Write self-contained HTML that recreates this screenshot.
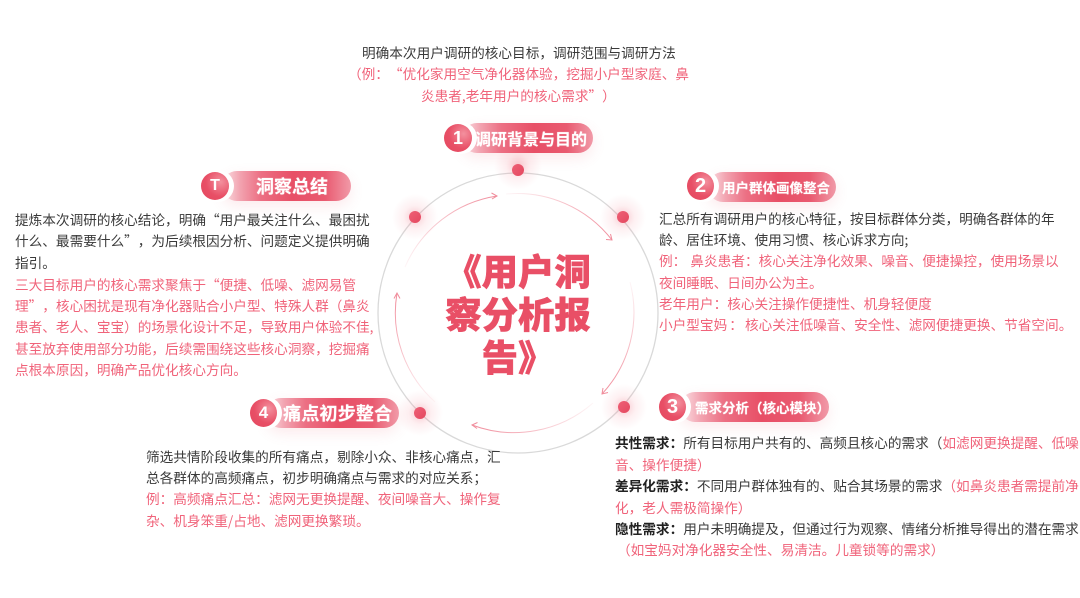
<!DOCTYPE html>
<html lang="zh-CN">
<head>
<meta charset="utf-8">
<style>
html,body{margin:0;padding:0;background:#fff}
#p{position:relative;width:1080px;height:598px;overflow:hidden;background:#fff;font-family:"Noto Sans CJK SC","Liberation Sans",sans-serif;text-spacing-trim:space-all;font-feature-settings:"palt" 0,"chws" 0,"halt" 0}
.l{position:absolute;white-space:pre;font-size:13.65px;line-height:20px;color:#3a3a3a;word-spacing:-1px}
.r{color:#f0637a}
.l b{color:#222;font-weight:700}
.pill{position:absolute;height:30px;border-radius:15px;background:linear-gradient(90deg,#fbe3e7 0%,#f2a3b0 14%,#ec6f83 30%,#e84f66 55%,#e95a70 80%,#f19aa8 100%);box-shadow:0 5px 14px rgba(233,80,102,.12)}
.c{position:absolute;border-radius:50%;background:radial-gradient(circle at 70% 35%,#f3909e 0%,#e84f66 55%,#e4485f 100%);color:#fff;text-align:center;font-family:"Liberation Sans",sans-serif;font-weight:700;box-shadow:0 0 0 2px #fff,3px 0 0 2px #fff}
.t{position:absolute;color:#fff;font-weight:700;white-space:pre;line-height:30px;text-shadow:0 0 1px rgba(255,255,255,.6)}
.h{position:absolute;width:100%;text-align:center;left:-22px;font-weight:900;font-size:36.4px;line-height:43px;color:#e94f66;white-space:pre;-webkit-text-stroke:.5px #e94f66}
</style>
</head>
<body>
<div id="p">
<svg width="1080" height="598" style="position:absolute;left:0;top:0">
<defs>
<radialGradient id="g"><stop offset="0" stop-color="#ee5a72" stop-opacity=".36"/><stop offset=".5" stop-color="#f2808f" stop-opacity=".12"/><stop offset="1" stop-color="#f2808f" stop-opacity="0"/></radialGradient>
<linearGradient id="a1" gradientUnits="userSpaceOnUse" x1="405" y1="267" x2="497" y2="196"><stop offset="0" stop-color="#f08c9b" stop-opacity=".08"/><stop offset="1" stop-color="#f08c9b"/></linearGradient>
<linearGradient id="a2" gradientUnits="userSpaceOnUse" x1="506" y1="194" x2="612" y2="240"><stop offset="0" stop-color="#f08c9b" stop-opacity=".08"/><stop offset="1" stop-color="#f08c9b"/></linearGradient>
<linearGradient id="a3" gradientUnits="userSpaceOnUse" x1="630" y1="282" x2="602" y2="394"><stop offset="0" stop-color="#f08c9b" stop-opacity=".08"/><stop offset="1" stop-color="#f08c9b"/></linearGradient>
<linearGradient id="a4" gradientUnits="userSpaceOnUse" x1="593" y1="403" x2="472" y2="425"><stop offset="0" stop-color="#f08c9b" stop-opacity=".08"/><stop offset="1" stop-color="#f08c9b"/></linearGradient>
<linearGradient id="a5" gradientUnits="userSpaceOnUse" x1="435" y1="402" x2="397" y2="293"><stop offset="0" stop-color="#f08c9b" stop-opacity=".08"/><stop offset="1" stop-color="#f08c9b"/></linearGradient>
<linearGradient id="dot" x1="0" y1="0" x2="1" y2="1"><stop offset="0" stop-color="#ee6076"/><stop offset="1" stop-color="#e4485f"/></linearGradient>
</defs>
<circle cx="518" cy="313" r="140" fill="none" stroke="#d9d9d9" stroke-width="1.3"/>
<g fill="url(#g)">
<circle cx="518" cy="166" r="24"/><circle cx="623" cy="217" r="23"/><circle cx="624" cy="407" r="23"/><circle cx="420" cy="413" r="23"/><circle cx="415" cy="217" r="23"/>
</g>
<g fill="none" stroke-width="1">
<path d="M405 267A120 120 0 0 1 497 196" stroke="url(#a1)"/>
<path d="M491.500 193L497 196L492 199" stroke="#f08c9b"/>
<path d="M506 194A120 120 0 0 1 612 240" stroke="url(#a2)"/>
<path d="M606 239.500L612 240L610.500 234" stroke="#f08c9b"/>
<path d="M630 282A120 120 0 0 1 602 394" stroke="url(#a3)"/>
<path d="M603 388L602 394L608 392.500" stroke="#f08c9b"/>
<path d="M593 403A120 120 0 0 1 472 425" stroke="url(#a4)"/>
<path d="M477.500 422.500L472 425L477 428.500" stroke="#f08c9b"/>
<path d="M435 402A120 120 0 0 1 397 293" stroke="url(#a5)"/>
<path d="M394 298.500L397 293L400 298.500" stroke="#f08c9b"/>
</g>
<g fill="url(#dot)">
<circle cx="518" cy="170" r="6"/><circle cx="623" cy="217" r="6"/><circle cx="624" cy="407" r="6"/><circle cx="420" cy="413" r="6"/><circle cx="415" cy="217" r="6"/>
</g>
</svg>

<div class="h" style="top:249px">《用户洞</div>
<div class="h" style="top:292px">察分析报</div>
<div class="h" style="top:335px">告》</div>

<!-- pills -->
<div class="pill" style="left:462px;top:123px;width:131px"></div>
<div class="c" style="left:444px;top:124px;width:28px;height:28px;line-height:28px;font-size:18px">1</div>
<div class="t" style="left:475px;top:123px;font-size:16px">调研背景与目的</div>

<div class="pill" style="left:222px;top:171px;width:129px"></div>
<div class="c" style="left:201px;top:172px;width:28px;height:28px;line-height:28px;font-size:16px">T</div>
<div class="t" style="left:256px;top:171px;font-size:18px">洞察总结</div>

<div class="pill" style="left:708px;top:172px;width:128px"></div>
<div class="c" style="left:687px;top:172px;width:27px;height:28px;line-height:28px;font-size:20px">2</div>
<div class="t" style="left:722px;top:172px;font-size:13.500px">用户群体画像整合</div>

<div class="pill" style="left:680px;top:392px;width:149px"></div>
<div class="c" style="left:659px;top:393px;width:27px;height:28px;line-height:28px;font-size:20px">3</div>
<div class="t" style="left:695px;top:392px;font-size:13.500px">需求分析（核心模块）</div>

<div class="pill" style="left:266px;top:398px;width:133px"></div>
<div class="c" style="left:250px;top:399px;width:27px;height:28px;line-height:28px;font-size:17px">4</div>
<div class="t" style="left:283px;top:398px;font-size:18.200px">痛点初步整合</div>

<!-- top -->
<div class="l" style="left:362px;top:42px">明确本次用户调研的核心目标，调研范围与调研方法</div>
<div class="l r" style="left:348px;top:63px">（例：“优化家用空气净化器体验，挖掘小户型家庭、鼻</div>
<div class="l r" style="left:421px;top:85px">炎患者,老年用户的核心需求”）</div>

<!-- left -->
<div class="l" style="left:15px;top:209px">提炼本次调研的核心结论，明确“用户最关注什么、最困扰</div>
<div class="l" style="left:15px;top:230px">什么、最需要什么”，为后续根因分析、问题定义提供明确</div>
<div class="l" style="left:15px;top:252px">指引。</div>
<div class="l r" style="left:15px;top:274px">三大目标用户的核心需求聚焦于“便捷、低噪、滤网易管</div>
<div class="l r" style="left:15px;top:295px">理”，核心困扰是现有净化器贴合小户型、特殊人群（鼻炎</div>
<div class="l r" style="left:15px;top:316px">患者、老人、宝宝）的场景化设计不足，导致用户体验不佳,</div>
<div class="l r" style="left:15px;top:338px">甚至放弃使用部分功能，后续需围绕这些核心洞察，挖掘痛</div>
<div class="l r" style="left:15px;top:359px">点根本原因，明确产品优化核心方向。</div>

<!-- right -->
<div class="l" style="left:659px;top:208px">汇总所有调研用户的核心特征，按目标群体分类，明确各群体的年</div>
<div class="l" style="left:659px;top:229px">龄、居住环境、使用习惯、核心诉求方向;</div>
<div class="l r" style="left:659px;top:250px">例：  鼻炎患者：核心关注净化效果、噪音、便捷操控，使用场景以</div>
<div class="l r" style="left:659px;top:272px">夜间睡眠、日间办公为主。</div>
<div class="l r" style="left:659px;top:293px">老年用户：核心关注操作便捷性、机身轻便度</div>
<div class="l r" style="left:659px;top:314px">小户型宝妈 ： 核心关注低噪音、安全性、滤网便捷更换、节省空间。</div>

<!-- bottom right -->
<div class="l" style="left:615px;top:432px"><b>共性需求：</b>所有目标用户共有的、高频且核心的需求（<span class="r">如滤网更换提醒、低噪</span></div>
<div class="l r" style="left:615px;top:454px">音、操作便捷）</div>
<div class="l" style="left:615px;top:475px"><b>差异化需求：</b>不同用户群体独有的、贴合其场景的需求<span class="r">（如鼻炎患者需提前净</span></div>
<div class="l r" style="left:615px;top:497px">化，老人需极简操作）</div>
<div class="l" style="left:615px;top:518px"><b>隐性需求：</b>用户未明确提及，但通过行为观察、情绪分析推导得出的潜在需求</div>
<div class="l r" style="left:617px;top:539px">（如宝妈对净化器安全性、易清洁。儿童锁等的需求）</div>

<!-- bottom left -->
<div class="l" style="left:146px;top:446px">筛选共情阶段收集的所有痛点，剔除小众、非核心痛点，汇</div>
<div class="l" style="left:146px;top:467px">总各群体的高频痛点，初步明确痛点与需求的对应关系；</div>
<div class="l r" style="left:146px;top:488px">例：高频痛点汇总：滤网无更换提醒、夜间噪音大、操作复</div>
<div class="l r" style="left:146px;top:510px">杂、机身笨重/占地、滤网更换繁琐。</div>
</div>
</body>
</html>
